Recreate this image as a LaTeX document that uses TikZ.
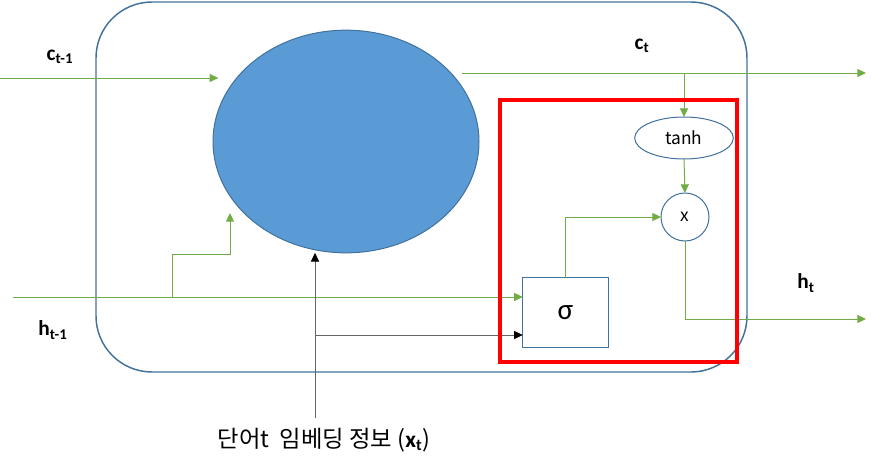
\documentclass[tikz,border=0pt]{standalone}
\usepackage{fontspec}
\setmainfont{Carlito}
\newfontfamily\kofont{Noto Sans CJK KR}
\usetikzlibrary{arrows.meta, shapes.geometric, calc}
\definecolor{lstmgreen}{HTML}{70AD47}
\definecolor{lstmblue}{HTML}{5B9BD5}
\definecolor{lstmedge}{HTML}{41719C}
\tikzset{
    >=Latex,
    lstm_frame/.style={
        draw=lstmedge,
        line width=1.1pt,
        rounded corners=42pt
    },
    lstm_focus/.style={
        draw=red,
        line width=3pt
    },
    lstm_cell/.style={
        ellipse,
        draw=lstmedge,
        fill=lstmblue,
        line width=0.75pt,
        minimum width=199.5pt,
        minimum height=167pt,
        inner sep=0pt,
        outer sep=0pt
    },
    lstm_tanh/.style={
        ellipse,
        draw=lstmedge,
        fill=white,
        line width=0.75pt,
        minimum width=74pt,
        minimum height=31.5pt,
        inner sep=0pt,
        outer sep=0pt,
        font=\kofont\fontsize{13}{15}\selectfont
    },
    lstm_mul/.style={
        circle,
        draw=lstmedge,
        fill=white,
        line width=0.75pt,
        minimum size=36pt,
        inner sep=0pt,
        outer sep=0pt,
        font=\kofont\fontsize{13}{15}\selectfont
    },
    lstm_gate/.style={
        rectangle,
        draw=lstmedge,
        fill=white,
        line width=0.9pt,
        minimum width=64pt,
        minimum height=52pt,
        inner sep=0pt,
        outer sep=0pt,
        font=\fontsize{22}{24}\selectfont
    },
    lstm_label/.style={
        font=\bfseries\fontsize{16}{19}\selectfont
    },
    lstm_arrow/.style={
        -{Triangle[length=6.5pt,width=6pt]},
        draw=lstmgreen,
        line width=0.75pt
    },
    lstm_input_arrow/.style={
        -{Triangle[length=6.5pt,width=6pt,color=black]},
        draw=black!60,
        line width=0.75pt
    }
}

\begin{document}
\begin{tikzpicture}[x=0.75pt, y=-0.75pt]
\useasboundingbox (0,0) rectangle (875,468);

% --- Cell frame ---
\draw[lstm_frame] (96,2) rectangle (747,372);

% --- Nodes ---
\node[lstm_cell] (cell) at (346,141.5) {};
\node[lstm_tanh] (tanh) at (684,138) {tanh};
\node[lstm_mul] (mul) at (685,217) {x};
\node[lstm_gate] (sig) at (565.5,312.5) {σ};

% --- Labels ---
\node[lstm_label] (ctPrev) at (60,57) {c\textsubscript{t-1}};
\node[lstm_label] (ctNext) at (642,46) {c\textsubscript{t}};
\node[lstm_label] (htPrev) at (53,330) {h\textsubscript{t-1}};
\node[lstm_label] (htNext) at (806,283) {h\textsubscript{t}};
\node[font=\fontsize{17.5}{20}\selectfont] (xtLabel) at (324,440)
  {{\kofont 단어t\ \ 임베딩 정보 (}{\bfseries x\textsubscript{t}}{\kofont )}};

% --- Free ends ---
\coordinate (cIn) at (0,78);
\coordinate (cOut) at (866,73);
\coordinate (hIn) at (13,297);
\coordinate (hOut) at (866,319);
\coordinate (hBranch) at (172,297);
\coordinate (gateIn) at (230,213);
\coordinate (xIn) at (315,418);
\coordinate (xBranch) at (315,335);

% --- Edges: cell state ---
\draw[lstm_arrow] (cIn) -- ([xshift=4pt]cIn -| cell.west);
\draw[lstm_arrow] ([xshift=-12.75pt]cell.east |- cOut) -- (cOut);
\draw[lstm_arrow] (tanh.north |- cOut) -- (tanh.north);
\draw[lstm_arrow] (tanh.south) -- (mul.north);

% --- Edges: hidden state ---
\draw[lstm_arrow] (hIn) -- (hIn -| sig.west);
\draw[lstm_arrow] (hBranch) -- ++(0,-43) -| (gateIn);
\draw[lstm_arrow] (sig.north) |- (mul.west);
\draw[lstm_arrow] (mul.south) |- (hOut);

% --- Edges: input ---
\draw[lstm_input_arrow] (xIn) -- (xIn |- cell.south);
\draw[lstm_input_arrow] (xBranch) -- (xBranch -| sig.west);

% --- Highlight ---
\draw[lstm_focus] (500,100) rectangle (737,362);

\end{tikzpicture}
\end{document}
